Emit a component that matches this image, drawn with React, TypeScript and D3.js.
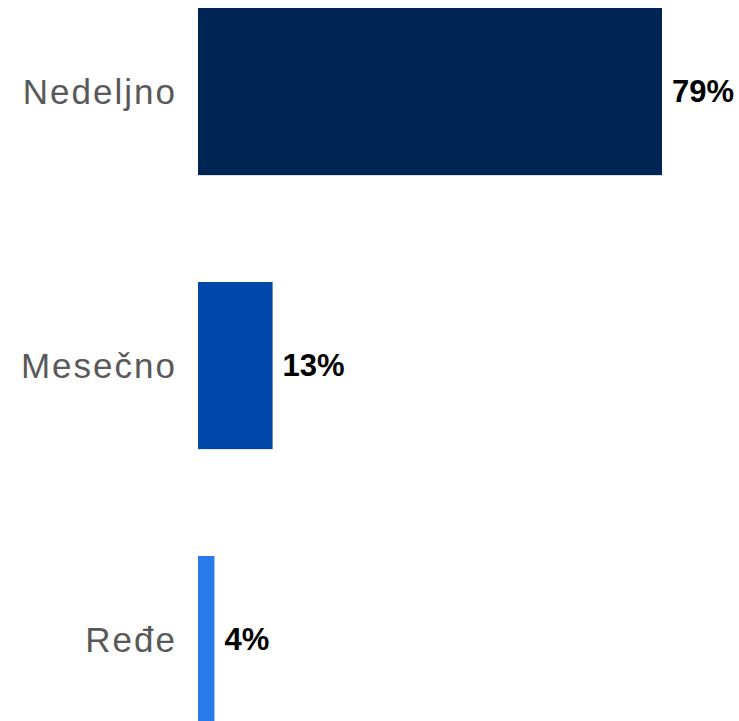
import React from "react";
import * as d3 from "d3";

const categories = ["Nedeljno", "Mesečno", "Ređe"];
const values = [79, 12.7, 2.8];
const valueLabels = ["79%", "13%", "4%"];
const colors = ["#002554", "#0047a9", "#2a7aec"];

const W = 739;
const H = 721;

export default function App() {
  const x = d3.scaleLinear().domain([0, 79]).range([198, 662]);
  const y = d3
    .scaleBand<string>()
    .domain(categories)
    .range([8, 8 + 274 * (categories.length - 0.39)])
    .paddingInner(0.39)
    .paddingOuter(0);

  return (
    <svg
      width={W}
      height={H}
      style={{ position: "absolute", left: 0, top: 0, display: "block" }}
      fontFamily="'Liberation Sans', Arial, sans-serif"
    >
      <rect width={W} height={H} fill="#ffffff" />
      {categories.map((c, i) => {
        const y0 = y(c) as number;
        const bw = y.bandwidth();
        const cy = y0 + bw / 2;
        return (
          <g key={c}>
            <rect x={x(0)} y={y0} width={x(values[i]) - x(0)} height={bw} fill={colors[i]} />
            <text
              x={177}
              y={cy}
              dy="0.35em"
              textAnchor="end"
              fontSize={35}
              letterSpacing={2}
              fill="#595959"
            >
              {c}
            </text>
            <text
              x={x(values[i]) + 10}
              y={cy}
              dy="0.35em"
              fontSize={31}
              fontWeight="bold"
              fill="#000000"
            >
              {valueLabels[i]}
            </text>
          </g>
        );
      })}
    </svg>
  );
}
